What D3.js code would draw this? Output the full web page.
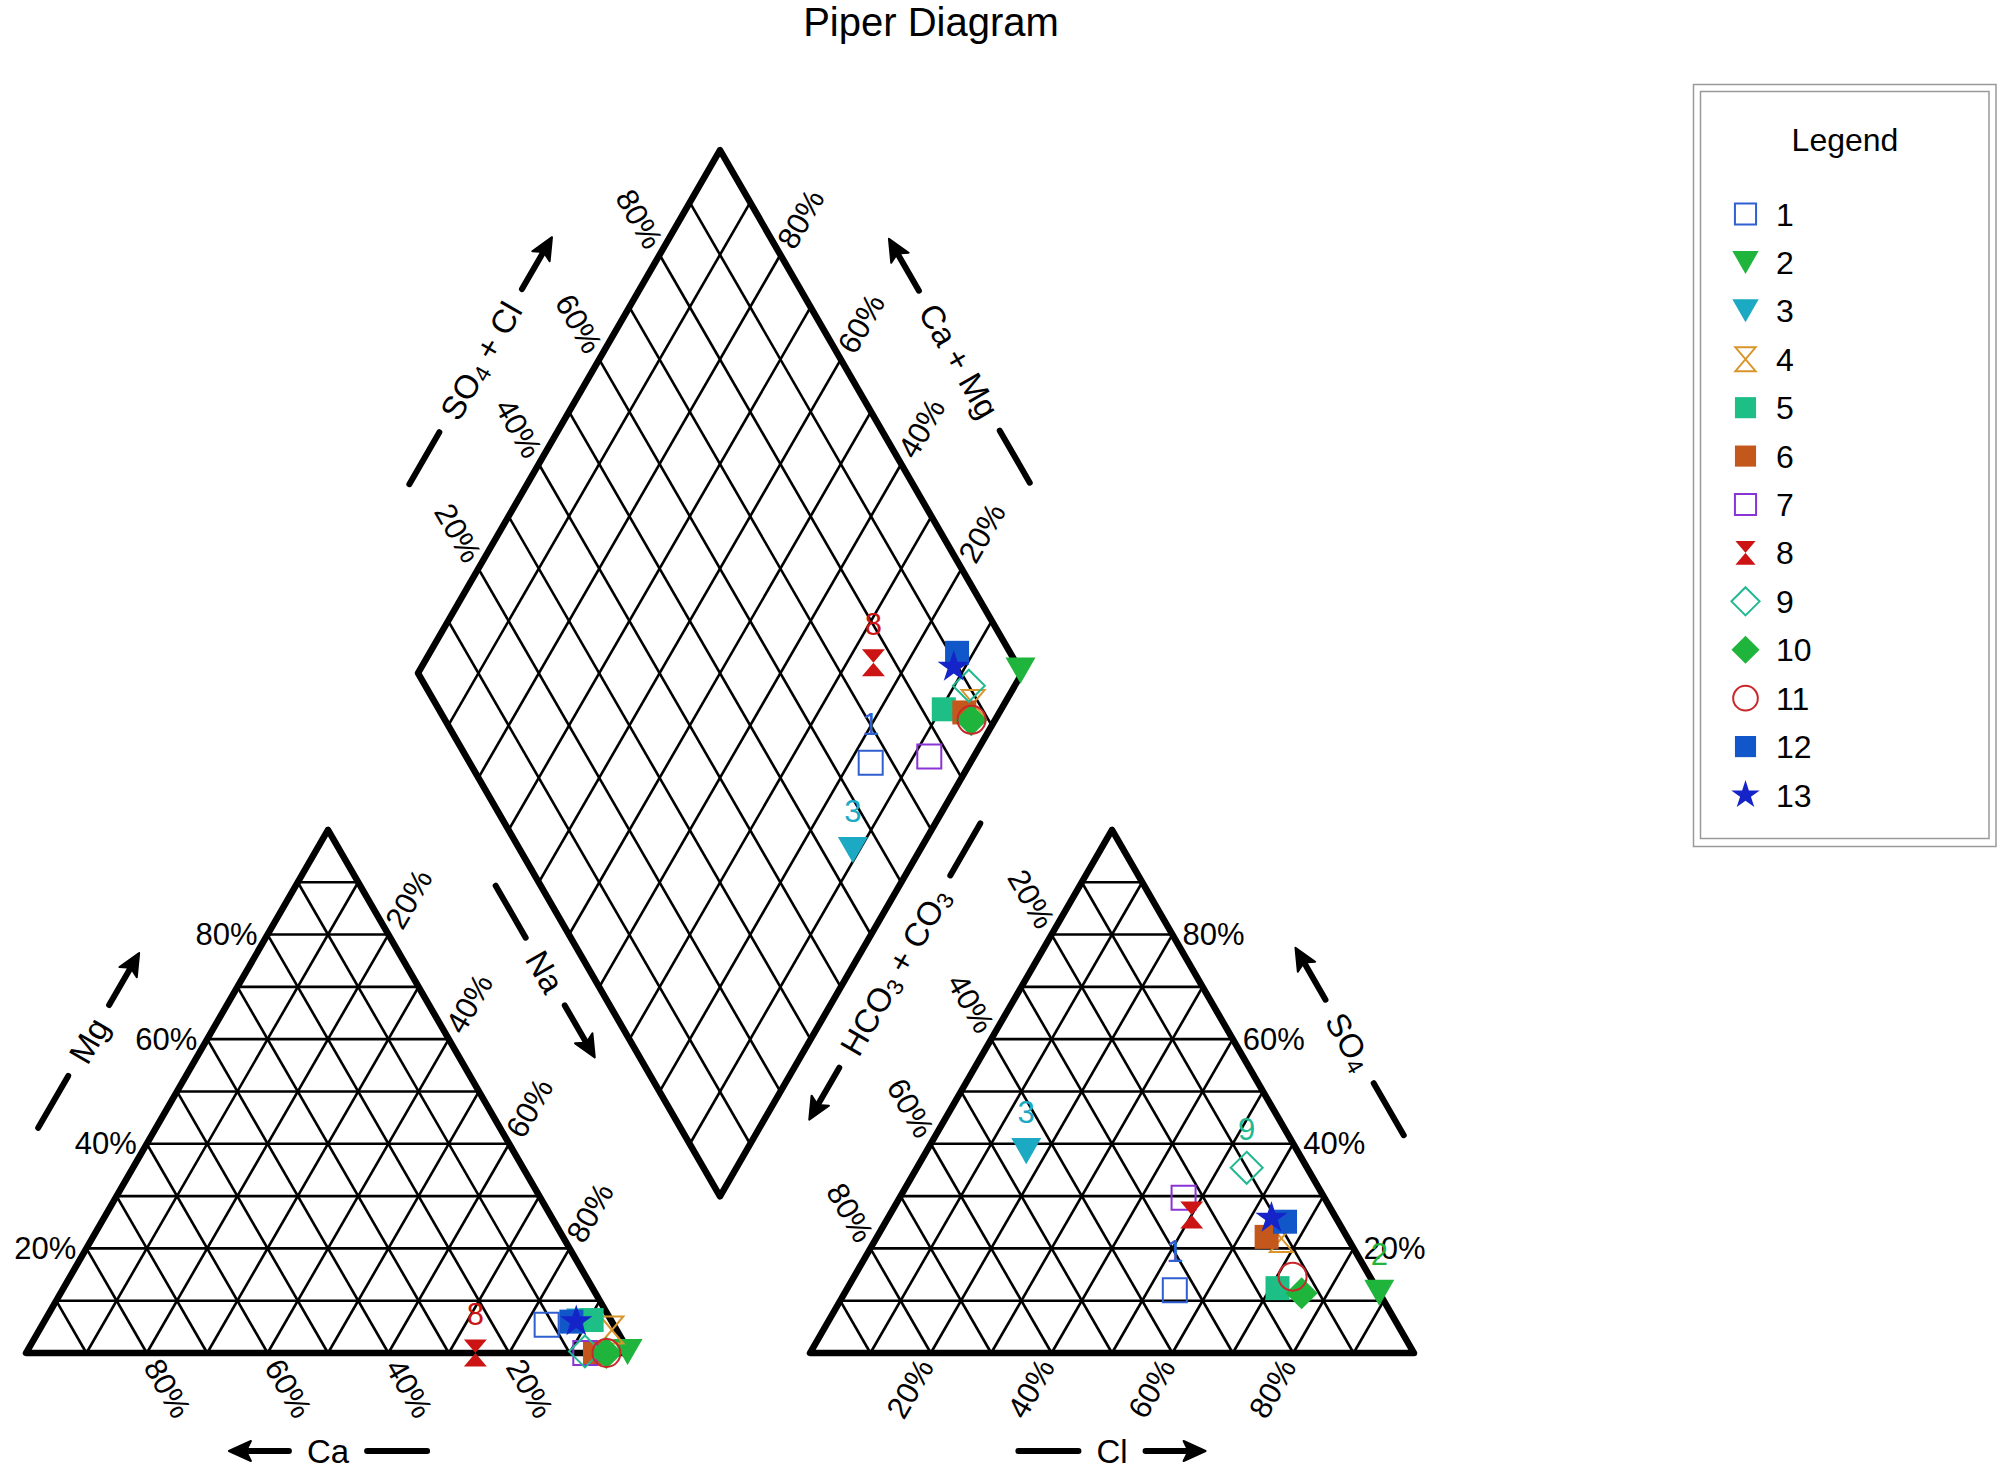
<!DOCTYPE html>
<html>
<head>
<meta charset="utf-8">
<script src="https://cdn.jsdelivr.net/npm/d3@7"></script>
<style>
body{margin:0;background:#fff;}
</style>
</head>
<body>
<div id="chart"></div>
<script>
// sample data (percent of meq)
var sampleIds=["1","2","3","4","5","6","7","8","9","10","11","12","13"];
var ca  =[11.1, 0.3, 5.1, 0.8, 3.2, 5.8, 7.4,25.6, 7.3, 3.9, 3.9, 6.7, 5.9];
var mg  =[ 5.4, 0.2, 6.0, 4.4, 6.3, 0.0, 0.0, 0.0, 0.3, 0.0, 0.0, 6.0, 6.0];
var na  =[83.5,99.5,88.9,94.8,90.5,94.2,92.6,74.4,92.4,96.1,96.1,87.3,88.1];
var hco3=[33.6, 0.0,44.9,11.0,16.4,13.3,23.3,23.6,10.0,12.9,12.8, 8.8,10.7];
var so4 =[12.0,11.5,38.6,21.9,12.4,22.2,29.7,26.4,35.4,11.4,14.6,25.1,25.8];
var cl  =[54.4,88.5,16.5,67.1,71.2,64.5,47.0,50.0,54.6,75.7,72.6,66.1,63.5];
var tickValues=[20,40,60,80];
var labelsCation=["8"];
var labelsDiamond=["8","1","3"];
var labelsAnion=["3","9","1","2"];

// marker styles
var markerShape=["square","triDown","triDown","hourglass","square","square","square","hourglass","diamond","diamond","circle","square","star"];
var markerColor=["#2f5fd0","#1fb53c","#1ba9c3","#d9952b","#1dbf86","#c4581c","#8b34d6","#cc1414","#22b892","#1fb53c","#c8282a","#1257c9","#1424c8"];
var markerOpen=[true,false,false,true,false,false,true,false,true,false,true,false,false];
var shapeSize={square:24,triDown:30,hourglass:27,diamond:32,circle:28,star:34};

var W=2000,H=1471;
var side=604, hgt=side*Math.sqrt(3)/2;
var baseY=1353, catX0=26, anX0=810;
var dmCx=720, dmBottom=1196.3;
var font="Arial, 'Liberation Sans', sans-serif";

var svg=d3.select("#chart").append("svg")
  .attr("width",W).attr("height",H)
  .style("background-color","#fff");

var along=d3.scaleLinear().domain([0,100]).range([0,side]);
var up=d3.scaleLinear().domain([0,100]).range([0,hgt]);
var frac=d3.scaleLinear().domain([0,100]).range([0,1]);

function pt(p,q,t){return [p[0]+(q[0]-p[0])*t,p[1]+(q[1]-p[1])*t];}

var cat={A:[catX0,baseY],B:[catX0+side,baseY],C:[catX0+side/2,baseY-hgt]};
var an={A:[anX0,baseY],B:[anX0+side,baseY],C:[anX0+side/2,baseY-hgt]};
var dm={B:[dmCx,dmBottom],R:[dmCx+side/2,dmBottom-hgt],T:[dmCx,dmBottom-2*hgt],L:[dmCx-side/2,dmBottom-hgt]};

var gridG=svg.append("g");
var outlineG=svg.append("g");
var textG=svg.append("g").style("font-family",font);
var markG=svg.append("g");

var steps=d3.range(10,100,10);
function gridLine(p,q){
  gridG.append("line").attr("x1",p[0]).attr("y1",p[1]).attr("x2",q[0]).attr("y2",q[1])
    .attr("stroke","#000").attr("stroke-width",2.6);
}
function triGrid(t){
  steps.forEach(function(v){
    var f=frac(v);
    gridLine(pt(t.A,t.C,f),pt(t.B,t.C,f));
    gridLine(pt(t.A,t.B,f),pt(t.C,t.B,f));
    gridLine(pt(t.B,t.A,f),pt(t.C,t.A,f));
  });
  outlineG.append("path").attr("d",d3.line()([t.A,t.B,t.C])+"Z")
    .attr("fill","none").attr("stroke","#000").attr("stroke-width",6.5).attr("stroke-linejoin","round");
}
triGrid(cat);
triGrid(an);
steps.forEach(function(v){
  var f=frac(v);
  gridLine(pt(dm.B,dm.R,f),pt(dm.L,dm.T,f));
  gridLine(pt(dm.B,dm.L,f),pt(dm.R,dm.T,f));
});
outlineG.append("path").attr("d",d3.line()([dm.B,dm.R,dm.T,dm.L])+"Z")
  .attr("fill","none").attr("stroke","#000").attr("stroke-width",6.5).attr("stroke-linejoin","round");

// tick labels
var c60=0.5, s60=Math.sqrt(3)/2, gap=10;
function tick(p,dir,angle,anchor,txt){
  var x=p[0]+gap*dir[0], y=p[1]+gap*dir[1];
  textG.append("text").attr("transform","translate("+x+","+y+") rotate("+angle+")")
    .attr("text-anchor",anchor).attr("dominant-baseline","central")
    .attr("font-size",31).attr("fill","#000").text(txt);
}
tickValues.forEach(function(v){
  var f=frac(v), s=v+"%";
  tick(pt(cat.A,cat.C,f),[-1,0],0,"end",s);          // Mg
  tick(pt(cat.C,cat.B,f),[c60,-s60],-60,"start",s);  // Na
  tick(pt(cat.B,cat.A,f),[c60,s60],60,"start",s);    // Ca
  tick(pt(an.B,an.C,f),[1,0],0,"start",s);           // SO4
  tick(pt(an.C,an.A,f),[-c60,-s60],60,"end",s);      // HCO3
  tick(pt(an.A,an.B,f),[-c60,s60],-60,"end",s);      // Cl
  tick(pt(dm.L,dm.T,f),[-c60,-s60],60,"end",s);      // SO4+Cl
  tick(pt(dm.R,dm.T,f),[c60,-s60],-60,"start",s);    // Ca+Mg
});

// axis titles with arrow
function axisTitle(center,angle,parts,arrowDir){
  var g=textG.append("g").attr("transform","translate("+center[0]+","+center[1]+") rotate("+angle+")");
  var t=g.append("text").attr("text-anchor","middle").attr("dominant-baseline","central")
    .attr("font-size",33).attr("fill","#000");
  parts.forEach(function(p){
    if(p.sub){
      t.append("tspan").attr("font-size",23).attr("dy",8).text(p.t);
      t.append("tspan").attr("dy",-8).text("\u200b");
    } else {
      t.append("tspan").text(p.t);
    }
  });
  var half=t.node().getComputedTextLength()/2;
  var g0=half+18, g1=half+78;
  // plain segment
  var ps=-arrowDir;
  g.append("line").attr("x1",ps*g0).attr("x2",ps*g1).attr("y1",0).attr("y2",0)
    .attr("stroke","#000").attr("stroke-width",6).attr("stroke-linecap","round");
  // arrow segment
  var d=arrowDir;
  g.append("line").attr("x1",d*g0).attr("x2",d*(g1-14)).attr("y1",0).attr("y2",0)
    .attr("stroke","#000").attr("stroke-width",6).attr("stroke-linecap","round");
  g.append("path").attr("d","M"+(d*g1)+",0L"+(d*(g1-22))+",-10L"+(d*(g1-17))+",0L"+(d*(g1-22))+",10Z")
    .attr("fill","#000").attr("stroke","#000").attr("stroke-width",2).attr("stroke-linejoin","round");
}
function mid(p,q){return pt(p,q,0.5);}
function off(p,n,dist){return [p[0]+n[0]*dist,p[1]+n[1]*dist];}
axisTitle([cat.C[0],baseY+98],0,[{t:"Ca"}],-1);
axisTitle(off(mid(cat.A,cat.C),[-s60,-c60],102),-60,[{t:"Mg"}],1);
axisTitle([an.C[0],baseY+98],0,[{t:"Cl"}],1);
axisTitle(off(mid(an.B,an.C),[s60,-c60],100),60,[{t:"SO"},{t:"4",sub:true}],-1);
axisTitle(off(mid(dm.L,dm.T),[-s60,-c60],102),-60,[{t:"SO"},{t:"4",sub:true},{t:" + Cl"}],1);
axisTitle(off(mid(dm.T,dm.R),[s60,-c60],102),60,[{t:"Ca + Mg"}],-1);
axisTitle(off(off(mid(dm.L,dm.B),[-s60,c60],39),[c60,s60],20),60,[{t:"Na"}],1);
axisTitle(off(off(mid(dm.B,dm.R),[s60,c60],39),[-c60,s60],20),-60,[{t:"HCO"},{t:"3",sub:true},{t:" + CO"},{t:"3",sub:true}],-1);

// title
svg.append("text").attr("x",931).attr("y",36).attr("text-anchor","middle")
  .style("font-family",font).attr("font-size",40).attr("fill","#000").text("Piper Diagram");

// marker symbol types
var symTypes={
  square:{draw:function(c,size){var s=Math.sqrt(size)/2;c.rect(-s,-s,2*s,2*s);}},
  triDown:{draw:function(c,size){var w=Math.sqrt(size),h=w*0.87;c.moveTo(-w/2,-h/2);c.lineTo(w/2,-h/2);c.lineTo(0,h/2);c.closePath();}},
  hourglass:{draw:function(c,size){var h=Math.sqrt(size),w=h*0.85;c.moveTo(-w/2,-h/2);c.lineTo(w/2,-h/2);c.lineTo(-w/2,h/2);c.lineTo(w/2,h/2);c.closePath();}},
  diamond:{draw:function(c,size){var r=Math.sqrt(size)/2;c.moveTo(0,-r);c.lineTo(r,0);c.lineTo(0,r);c.lineTo(-r,0);c.closePath();}},
  circle:{draw:function(c,size){var r=Math.sqrt(size)/2;c.moveTo(r,0);c.arc(0,0,r,0,2*Math.PI);}},
  star:{draw:function(c,size){var r=Math.sqrt(size)/2;d3.symbolStar.draw(c,r*r/0.8908130915292852);}}
};
function markerPath(i,scale){
  var w=shapeSize[markerShape[i]]*(scale||1);
  return d3.symbol().type(symTypes[markerShape[i]]).size(w*w)();
}
function drawMarkers(points,labels){
  var g=markG.append("g");
  g.selectAll("path").data(points).enter().append("path")
    .attr("d",function(d){return markerPath(d.i);})
    .attr("transform",function(d){return "translate("+d.x+","+d.y+")";})
    .attr("fill",function(d){return markerOpen[d.i]?"none":markerColor[d.i];})
    .attr("stroke",function(d){return markerOpen[d.i]?markerColor[d.i]:"none";})
    .attr("stroke-width",2);
  g.selectAll("text").data(points.filter(function(d){return labels.indexOf(d.id)>=0;}))
    .enter().append("text")
    .attr("x",function(d){return d.x;})
    .attr("y",function(d){return d.y-28;})
    .attr("text-anchor","middle")
    .style("font-family",font).attr("font-size",31)
    .attr("fill",function(d){return markerColor[d.i];})
    .text(function(d){return d.id;});
}
var catPts=sampleIds.map(function(id,i){
  return {id:id,i:i,x:catX0+along(na[i]+mg[i]/2),y:baseY-up(mg[i])};
});
var anPts=sampleIds.map(function(id,i){
  return {id:id,i:i,x:anX0+along(cl[i]+so4[i]/2),y:baseY-up(so4[i])};
});
var dmPts=sampleIds.map(function(id,i){
  var a=so4[i]+cl[i], c=ca[i]+mg[i];
  return {id:id,i:i,x:dmCx+along((a-c)/2),y:dmBottom-up(a+c)};
});
drawMarkers(catPts,labelsCation);
drawMarkers(dmPts,labelsDiamond);
drawMarkers(anPts,labelsAnion);

// legend
var lg=svg.append("g");
lg.append("rect").attr("x",1693.5).attr("y",84.5).attr("width",302.5).attr("height",762)
  .attr("fill","#fff").attr("stroke","#9a9a9a").attr("stroke-width",1.5);
lg.append("rect").attr("x",1700.5).attr("y",91.5).attr("width",288.5).attr("height",747)
  .attr("fill","none").attr("stroke","#9a9a9a").attr("stroke-width",1.5);
lg.append("text").attr("x",1845).attr("y",151).attr("text-anchor","middle")
  .style("font-family",font).attr("font-size",32).attr("fill","#000").text("Legend");
var legY=d3.scaleLinear().domain([0,12]).range([214,795]);
var items=lg.selectAll("g.item").data(sampleIds).enter().append("g").attr("class","item")
  .attr("transform",function(d,i){return "translate(0,"+legY(i)+")";});
items.append("path")
  .attr("d",function(d,i){return markerPath(i,0.88);})
  .attr("transform","translate(1745.5,0)")
  .attr("fill",function(d,i){return markerOpen[i]?"none":markerColor[i];})
  .attr("stroke",function(d,i){return markerOpen[i]?markerColor[i]:"none";})
  .attr("stroke-width",2);
items.append("text").attr("x",1776).attr("y",0).attr("dy","0.36em")
  .style("font-family",font).attr("font-size",32).attr("fill","#000")
  .text(function(d){return d;});
</script>
</body>
</html>
